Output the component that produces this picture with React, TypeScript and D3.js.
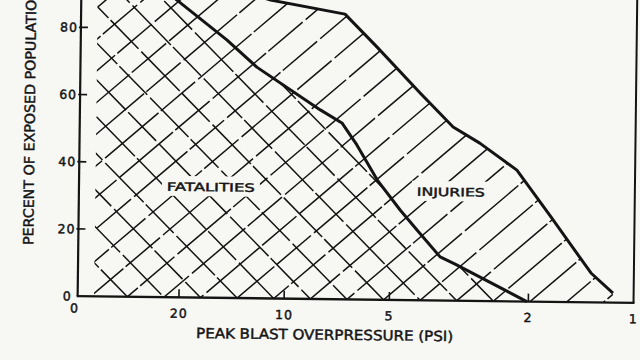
import React from "react";
import * as d3 from "d3";

const W = 640;
const H = 360;

// axis ticks
const yTicks = [0, 20, 40, 60, 80];
const xTicks = [20, 10, 5, 2];
const xLabelVals = [20, 10, 5, 2, 1];
const xLabels = ["20", "10", "5", "2", "1"];
const AXIS_LEFT_PSI = 39; // left end of the axis, printed as "0"
const HATCH_LEFT_PSI = 35;

// curves: psi vs percent of exposed population
const fatalPsi = [28.4, 20.8, 14.9, 12.2, 8.0, 6.93, 6.27, 5.47, 4.69, 4.19, 3.59, 3.25, 2.02];
const fatalPct = [100, 88.5, 76.8, 68.8, 56.3, 52.5, 46.0, 35.7, 26.8, 20.9, 13.0, 10.9, 0];
const injuryPsi = [25, 11.2, 6.85, 5.53, 4.15, 3.33, 2.79, 2.18, 1.735, 1.327, 1.146];
const injuryPct = [100, 88.8, 84.9, 75.2, 61.7, 51.7, 47.0, 39.1, 25.3, 8.75, 2.86];

const INK = "#141414";
const PAPER = "#f7f7f4";
const FONT = "'DejaVu Sans', 'Liberation Sans', sans-serif";

export default function App() {
	const x = d3.scaleLog().domain([1, 10]).range([635, 285.6]);
	const y = d3.scaleLinear().domain([0, 100]).range([299.5, -36.5]);

	const xl = x(AXIS_LEFT_PSI);
	const xr = x(1);
	const base = y(0);
	const top = y(115);

	const line = d3.line<[number, number]>();
	const fatalPts: [number, number][] = fatalPsi.map((p, i) => [x(p), y(fatalPct[i])]);
	const injuryPts: [number, number][] = injuryPsi.map((p, i) => [x(p), y(injuryPct[i])]);

	const hx = x(HATCH_LEFT_PSI);
	const region = (pts: [number, number][]) => {
		const last = pts[pts.length - 1];
		const poly: [number, number][] = [[hx, top], [pts[0][0], top], ...pts, [last[0], base], [hx, base]];
		return line(poly) + "Z";
	};

	// hatch lines, both families meet the baseline at the same points
	const step = 36.6;
	const phase = 385;
	const ks = d3.range(-22, 26);
	const up = Math.tan((41 * Math.PI) / 180);
	const down = Math.tan((45 * Math.PI) / 180);
	const ext = base - top + 20;

	const lbl = { stroke: INK, strokeWidth: 0.45 };

	return (
		<svg width={W} height={H} style={{ position: "fixed", left: 0, top: 0, display: "block", background: PAPER }}>
			<defs>
				<clipPath id="injClip"><path d={region(injuryPts)} /></clipPath>
				<clipPath id="fatClip"><path d={region(fatalPts)} /></clipPath>
			</defs>
			<rect width={W} height={H} fill={PAPER} />
			<g transform="rotate(0.7 355 180)">
				<g clipPath="url(#injClip)" stroke={INK} strokeWidth={1.5} fill="none">
					{ks.map(k => {
						const x0 = phase + k * step;
						return <line key={"u" + k} x1={x0 - 10 / up} y1={base + 10} x2={x0 + ext / up} y2={base - ext}
							strokeDasharray="70 3 45 4" strokeDashoffset={(k * 29) % 122} />;
					})}
				</g>
				<g clipPath="url(#fatClip)" stroke={INK} strokeWidth={1.5} fill="none">
					{ks.map(k => {
						const x0 = phase + k * step;
						return <line key={"d" + k} x1={x0 + 10 / down} y1={base + 10} x2={x0 - ext / down} y2={base - ext}
							strokeDasharray="55 4 40 3" strokeDashoffset={(k * 37) % 102} />;
					})}
				</g>

				{/* paper behind the region labels */}
				<rect x={162} y={178} width={98} height={20} fill={PAPER} />
				<rect x={412} y={180} width={80} height={20} fill={PAPER} />

				<path d={line(injuryPts) || ""} fill="none" stroke={INK} strokeWidth={3} strokeLinejoin="round" />
				<path d={line(fatalPts) || ""} fill="none" stroke={INK} strokeWidth={3} strokeLinejoin="round" />

				{/* axes */}
				<line x1={xl} x2={xl} y1={top} y2={base} stroke={INK} strokeWidth={2.2} />
				<line x1={xr} x2={xr} y1={top} y2={base} stroke={INK} strokeWidth={2} />
				<line x1={xl - 1} x2={xr + 1} y1={base} y2={base} stroke={INK} strokeWidth={2.4} />

				{yTicks.filter(t => t > 0).map(t => (
					<line key={"yt" + t} x1={xl - 2} x2={xl + 7} y1={y(t)} y2={y(t)} stroke={INK} strokeWidth={1.7} />
				))}
				{xTicks.map(t => (
					<line key={"xt" + t} x1={x(t)} x2={x(t)} y1={base} y2={base - 8} stroke={INK} strokeWidth={1.6} />
				))}

				<g fontFamily={FONT} fontSize={12.5} fill={INK} letterSpacing={1} {...lbl}>
					{yTicks.map(t => (
						<text key={"yl" + t} x={t === 0 ? xl - 6 : xl - 3} y={y(t)} dy="0.36em" textAnchor="end">{t}</text>
					))}
					<text x={xl - 3} y={base + 12} dy="0.36em" textAnchor="middle">0</text>
					{xLabelVals.map((v, i) => (
						<text key={"xl" + v} x={x(v)} y={base + 16} dy="0.36em" textAnchor="middle">{xLabels[i]}</text>
					))}
				</g>

				<g fontFamily={FONT} fill={INK} {...lbl}>
					<text x={167} y={193} fontSize={11.5} textLength={88} lengthAdjust="spacingAndGlyphs">FATALITIES</text>
					<text x={417} y={195} fontSize={11.5} textLength={68} lengthAdjust="spacingAndGlyphs">INJURIES</text>
					<text x={198} y={340} fontSize={14} textLength={257} lengthAdjust="spacingAndGlyphs">PEAK BLAST OVERPRESSURE (PSI)</text>
					<text transform="translate(34,249) rotate(-90)" fontSize={14} textLength={256} lengthAdjust="spacingAndGlyphs">PERCENT OF EXPOSED POPULATION</text>
				</g>
			</g>
		</svg>
	);
}
